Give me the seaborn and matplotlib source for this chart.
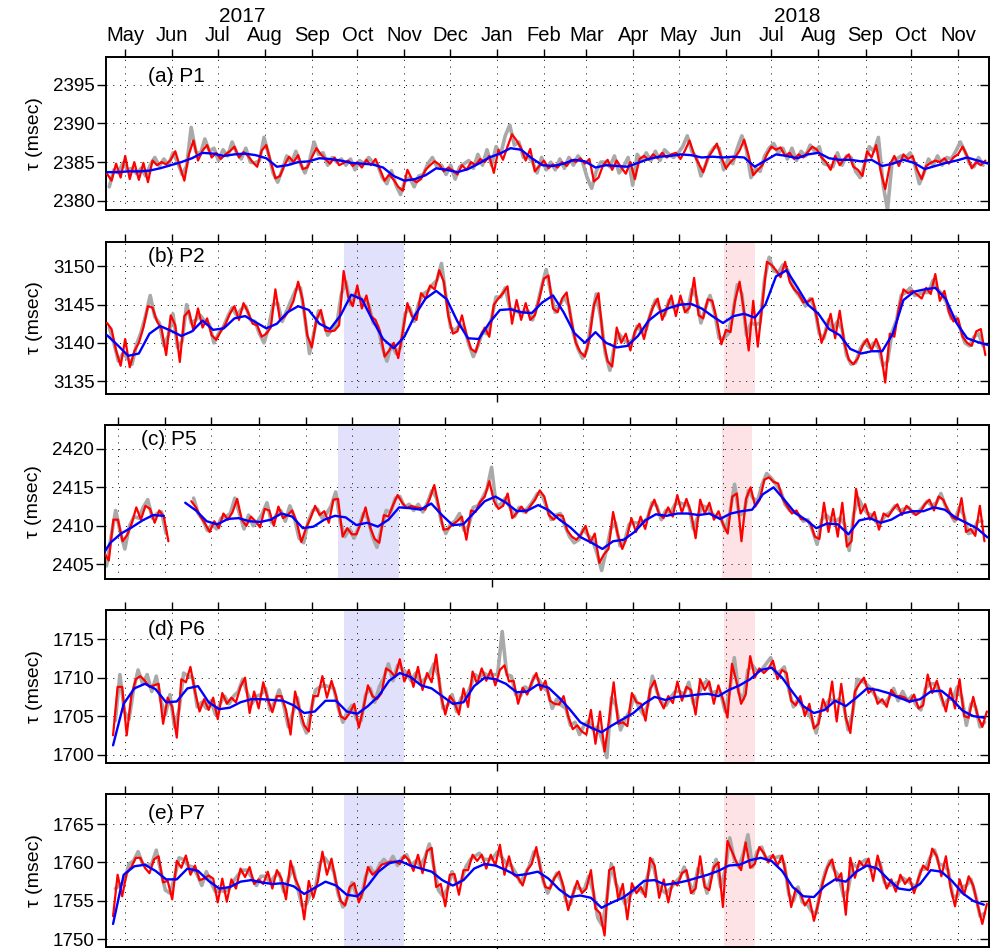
import numpy as np
import pandas as pd
import matplotlib
matplotlib.use("Agg")
import matplotlib.pyplot as plt
import matplotlib.dates as mdates
import matplotlib.transforms as mtransforms
from matplotlib.ticker import NullLocator
import seaborn as sns

# ---------------------------------------------------------------------------
# Travel-time series (tau, msec) for five paths.
#   *_RED  : daily-smoothed series, one value every 3 days from the start date
#   *_GRAY : raw series, one value every 3 days, offset by 1.5 days
#   *_BLUE : long-period trend, one value every 7 days from the start date
# nan marks missing data.
# ---------------------------------------------------------------------------
nan = float("nan")

P1_RED = [
    2383.5, 2382.6, 2384.8, 2383.0, 2385.8, 2382.8, 2385.0, 2382.7, 2384.9, 2382.4,
    2385.2, 2384.6, 2385.0, 2384.7, 2385.3, 2386.4, 2384.5, 2382.6, 2386.0, 2387.8,
    2385.2, 2386.5, 2387.2, 2385.6, 2386.2, 2385.4, 2386.0, 2386.4, 2387.0, 2385.6,
    2386.3, 2385.8, 2385.0, 2384.4, 2386.5, 2387.2, 2385.0, 2382.9, 2383.2, 2384.6,
    2385.7, 2385.0, 2385.9, 2384.1, 2384.3, 2385.6, 2386.8, 2386.0, 2385.4, 2384.8,
    2385.6, 2384.6, 2384.9, 2385.2, 2384.5, 2385.0, 2384.3, 2385.3, 2384.6, 2385.4,
    2384.0, 2382.6, 2383.4, 2382.7, 2381.8, 2381.3, 2384.0, 2382.8, 2382.4, 2382.8,
    2384.0, 2384.6, 2385.1, 2384.7, 2383.8, 2384.3, 2383.9, 2383.4, 2384.6, 2384.0,
    2385.0, 2384.6, 2385.4, 2385.0, 2385.8, 2383.6, 2386.6, 2385.3, 2387.0, 2388.6,
    2387.8, 2386.8, 2385.2, 2386.7, 2383.8, 2384.5, 2385.2, 2384.2, 2384.7, 2384.3,
    2385.0, 2384.5, 2385.3, 2385.0, 2385.5, 2384.8, 2385.4, 2382.5, 2383.0, 2384.6,
    2385.3, 2384.0, 2385.2, 2384.3, 2383.5, 2385.0, 2382.8, 2385.4, 2385.8, 2385.3,
    2386.0, 2385.5, 2386.2, 2385.6, 2386.0, 2386.2, 2385.4, 2386.5, 2387.8, 2386.0,
    2384.8, 2383.7, 2385.5, 2386.4, 2387.4, 2385.6, 2384.2, 2385.0, 2385.6, 2386.5,
    2387.9, 2385.8, 2383.3, 2384.0, 2384.6, 2386.0, 2387.0, 2386.6, 2386.9, 2385.8,
    2386.2, 2385.4, 2386.0, 2385.6, 2386.3, 2387.0, 2386.6, 2385.6, 2385.0, 2384.0,
    2385.8, 2384.6, 2385.4, 2386.0, 2384.4, 2384.0, 2383.2, 2386.4, 2385.6, 2387.2,
    2383.8, 2381.5, 2384.6, 2385.8, 2384.5, 2386.0, 2385.4, 2385.8, 2384.0, 2382.8,
    2384.5, 2384.9, 2385.2, 2385.0, 2385.5, 2384.8, 2385.6, 2386.0, 2387.0, 2385.8,
    2384.2, 2385.0, 2384.6, 2385.2,
]
P1_GRAY = [
    2381.8, 2384.0, 2383.6, 2384.9, 2384.0, 2384.2, 2383.5, 2384.2, 2383.2, 2384.6,
    2385.6, 2384.5, 2385.4, 2384.6, 2386.2, 2385.0, 2383.4, 2384.5, 2389.5, 2386.4,
    2386.0, 2388.0, 2386.4, 2386.8, 2385.2, 2386.6, 2385.8, 2387.6, 2386.2, 2385.4,
    2386.8, 2385.0, 2384.9, 2385.2, 2388.2, 2386.0, 2383.6, 2382.4, 2384.0, 2385.8,
    2384.8, 2386.4, 2384.8, 2383.6, 2385.2, 2387.6, 2386.0, 2386.2, 2384.6, 2385.6,
    2385.0, 2385.4, 2384.6, 2385.4, 2384.0, 2385.2, 2384.8, 2385.6, 2384.9, 2384.6,
    2383.0, 2382.2, 2383.9, 2382.0, 2380.8, 2382.6, 2383.0, 2381.8, 2383.2, 2383.4,
    2384.8, 2385.6, 2384.4, 2384.6, 2383.4, 2384.6, 2382.8, 2384.4, 2384.8, 2385.2,
    2384.2, 2386.0, 2384.6, 2386.6, 2384.6, 2387.0, 2386.0, 2388.4, 2389.8, 2387.2,
    2387.6, 2385.6, 2385.8, 2385.0, 2383.6, 2385.6, 2384.0, 2385.0, 2384.0, 2385.4,
    2384.2, 2385.6, 2384.6, 2385.8, 2385.0, 2383.0, 2381.6, 2383.8, 2385.0, 2385.0,
    2384.4, 2385.8, 2383.6, 2384.4, 2385.6, 2382.0, 2386.0, 2385.2, 2386.2, 2385.2,
    2386.4, 2385.2, 2386.6, 2386.0, 2385.6, 2386.2, 2387.0, 2388.4, 2386.4, 2385.6,
    2383.2, 2384.6, 2386.2, 2387.0, 2386.8, 2384.0, 2385.4, 2384.8, 2386.8, 2388.4,
    2386.6, 2383.0, 2384.2, 2383.8, 2385.8, 2386.8, 2387.4, 2386.2, 2386.8, 2385.4,
    2386.8, 2385.2, 2386.4, 2385.8, 2387.2, 2386.4, 2387.0, 2384.8, 2384.6, 2384.4,
    2386.2, 2384.6, 2385.8, 2385.6, 2383.8, 2383.0, 2384.8, 2387.0, 2386.4, 2388.2,
    2382.2, 2378.8, 2385.0, 2385.4, 2385.8, 2385.6, 2386.2, 2384.6, 2382.2, 2383.6,
    2385.4, 2384.6, 2385.8, 2384.6, 2385.6, 2385.4, 2386.4, 2387.6, 2386.4, 2384.8,
    2384.4, 2385.6, 2384.6,
]
P1_BLUE = [
    2383.7, 2383.7, 2383.8, 2383.8, 2383.9, 2384.2, 2384.6, 2385.0, 2385.5, 2386.2,
    2386.1, 2385.8, 2386.0, 2386.1, 2385.9, 2385.5, 2384.4, 2384.6, 2385.0, 2385.1,
    2385.5, 2385.4, 2385.2, 2384.9, 2384.8, 2384.7, 2384.3, 2383.2, 2382.6, 2382.8,
    2383.3, 2384.2, 2384.0, 2383.7, 2384.1, 2384.8, 2385.6, 2386.1, 2386.8, 2386.6,
    2385.5, 2384.6, 2384.5, 2384.8, 2385.3, 2385.1, 2384.3, 2384.6, 2384.5, 2384.4,
    2384.9, 2385.4, 2385.7, 2385.8, 2386.0, 2385.9, 2385.6, 2385.7, 2385.6, 2385.7,
    2385.6, 2384.4, 2385.2, 2386.0, 2385.8, 2385.5, 2386.0, 2386.2, 2385.5, 2385.3,
    2385.3, 2385.1, 2385.3, 2384.5, 2384.8, 2385.3, 2384.9, 2384.1, 2384.5, 2384.9,
    2385.2, 2385.6, 2385.2, 2384.8,
]

P2_RED = [
    3142.6, 3141.8, 3139.0, 3137.0, 3140.5, 3136.8, 3138.9, 3140.0, 3142.0, 3144.8,
    3144.6, 3142.8, 3141.8, 3138.4, 3143.6, 3142.3, 3137.5, 3143.5, 3144.2, 3141.6,
    3144.5, 3142.0, 3143.2, 3141.0, 3140.4, 3141.5, 3142.4, 3143.8, 3144.8, 3143.0,
    3145.2, 3144.0, 3142.5, 3142.3, 3140.8, 3141.2, 3142.0, 3147.0, 3143.0, 3143.4,
    3144.2, 3145.5, 3148.0, 3145.6, 3141.0, 3139.4, 3143.0, 3144.3, 3141.6, 3141.5,
    3141.6, 3142.3, 3149.4, 3146.0, 3144.8, 3147.5, 3144.5, 3146.2, 3143.5, 3143.0,
    3141.5, 3138.2, 3139.0, 3140.0, 3138.0, 3141.5, 3145.2, 3143.5, 3143.0, 3146.5,
    3145.8, 3147.5, 3147.0, 3149.5, 3148.0, 3143.5, 3141.2, 3141.5, 3143.6, 3141.0,
    3139.2, 3138.8, 3140.8, 3142.0, 3140.8, 3145.0, 3145.8, 3146.5, 3147.4, 3142.5,
    3145.6, 3143.0, 3145.2, 3143.0, 3143.6, 3145.8, 3148.4, 3148.8, 3144.5, 3144.0,
    3145.8, 3146.6, 3143.0, 3140.0, 3138.8, 3138.2, 3140.5, 3145.0, 3146.5, 3140.5,
    3137.6, 3136.9, 3142.0, 3140.0, 3141.2, 3139.0, 3141.5, 3142.5, 3140.5, 3143.0,
    3144.7, 3145.8, 3143.0, 3144.5, 3146.2, 3143.5, 3146.2, 3144.0, 3144.6, 3148.5,
    3143.6, 3143.2, 3145.7, 3145.5, 3143.0, 3139.8, 3141.7, 3141.4, 3145.5, 3148.0,
    3144.0, 3139.0, 3145.5, 3139.5, 3145.0, 3150.6, 3150.2, 3149.5, 3148.6, 3150.6,
    3148.0, 3147.0, 3146.4, 3145.3, 3145.4, 3145.8, 3143.2, 3140.0, 3141.6, 3143.8,
    3140.6, 3144.2, 3140.0, 3137.8, 3137.2, 3138.0, 3139.6, 3140.5, 3139.0, 3140.5,
    3139.0, 3134.8, 3141.2, 3140.8, 3144.5, 3147.0, 3146.5, 3146.8, 3146.3, 3145.8,
    3147.2, 3146.4, 3149.0, 3145.5, 3146.8, 3144.0, 3142.8, 3143.2, 3140.8, 3140.0,
    3139.6, 3141.5, 3141.8, 3138.4,
]
P2_GRAY = [
    3142.0, 3140.0, 3137.6, 3138.6, 3138.0, 3137.2, 3139.8, 3141.4, 3143.6, 3146.2,
    3143.4, 3142.6, 3139.6, 3141.0, 3143.8, 3139.4, 3140.2, 3145.0, 3142.6, 3143.0,
    3143.6, 3142.8, 3142.4, 3140.0, 3141.2, 3142.0, 3143.4, 3144.6, 3143.6, 3144.4,
    3144.8, 3143.0, 3142.8, 3141.2, 3140.0, 3142.0, 3145.0, 3145.2, 3142.8, 3144.2,
    3145.6, 3147.0, 3147.2, 3143.2, 3138.6, 3141.4, 3144.2, 3142.8, 3141.0, 3141.8,
    3142.4, 3146.4, 3148.0, 3145.0, 3146.4, 3146.0, 3145.4, 3145.0, 3142.6, 3142.2,
    3139.4, 3137.6, 3139.8, 3138.6, 3139.4, 3143.8, 3144.6, 3142.8, 3145.2, 3146.4,
    3146.8, 3147.6, 3148.2, 3150.4, 3146.0, 3142.0, 3141.6, 3142.4, 3142.0, 3139.8,
    3138.2, 3139.6, 3141.4, 3141.2, 3143.2, 3146.0, 3146.0, 3147.2, 3144.6, 3144.2,
    3144.0, 3144.0, 3144.2, 3143.0, 3144.8, 3147.4, 3149.6, 3146.6, 3144.0, 3145.0,
    3146.0, 3144.8, 3141.2, 3139.2, 3138.0, 3139.2, 3143.2, 3146.4, 3143.2, 3138.6,
    3136.4, 3139.6, 3141.2, 3140.4, 3140.0, 3140.4, 3142.2, 3141.4, 3141.8, 3144.0,
    3145.6, 3144.4, 3143.6, 3145.6, 3144.6, 3145.0, 3145.2, 3144.0, 3147.0, 3146.0,
    3142.6, 3144.6, 3146.2, 3144.0, 3140.6, 3140.6, 3141.2, 3143.8, 3147.6, 3146.4,
    3141.0, 3142.6, 3142.4, 3142.6, 3148.4, 3151.2, 3149.4, 3149.2, 3150.2, 3149.6,
    3147.6, 3146.6, 3145.8, 3144.8, 3145.8, 3144.6, 3141.2, 3140.6, 3143.0, 3141.8,
    3142.8, 3141.8, 3138.4, 3137.2, 3137.4, 3139.2, 3140.2, 3139.4, 3140.0, 3139.4,
    3137.0, 3137.6, 3141.4, 3143.0, 3146.2, 3146.6, 3147.2, 3146.2, 3146.4, 3146.6,
    3146.6, 3148.2, 3147.0, 3146.4, 3145.2, 3143.2, 3143.4, 3141.8, 3140.0, 3139.6,
    3140.8, 3141.2, 3139.6,
]
P2_BLUE = [
    3141.0, 3139.7, 3138.3, 3138.6, 3141.2, 3142.2, 3141.6, 3140.9, 3141.5, 3142.9,
    3141.7, 3141.9, 3143.2, 3143.5, 3142.7, 3141.9, 3142.5, 3144.0, 3144.8, 3144.3,
    3142.5, 3141.8, 3143.6, 3146.3, 3145.7, 3143.0, 3140.5, 3139.3, 3140.8, 3143.6,
    3145.8, 3146.8, 3145.7, 3142.8, 3140.6, 3140.5, 3142.6, 3144.3, 3144.4, 3144.0,
    3143.9, 3145.3, 3146.2, 3144.0, 3141.3, 3140.0, 3141.4, 3140.0, 3139.4, 3139.6,
    3140.9, 3142.9, 3144.0, 3144.6, 3145.0, 3145.1, 3144.5, 3143.5, 3142.6, 3143.5,
    3143.8, 3143.3, 3145.0, 3148.7, 3149.5, 3147.3, 3145.0, 3143.8, 3141.8, 3141.0,
    3139.2, 3138.6, 3138.9, 3138.9, 3141.2, 3145.6, 3146.7, 3147.0, 3147.2, 3145.7,
    3142.6, 3140.6, 3140.1, 3139.7,
]

P5_RED = [
    nan, 2406.5, 2405.5, 2410.8, 2410.8, 2408.0, 2408.8, 2410.3, 2412.4, 2410.8,
    2412.6, 2412.2, 2410.4, 2412.0, 2411.2, 2408.0, nan, nan, nan, nan,
    2413.2, 2412.4, 2411.2, 2410.3, 2409.2, 2410.6, 2409.7, 2411.6, 2410.8, 2411.8,
    2413.5, 2410.8, 2410.0, 2411.2, 2410.6, 2409.8, 2412.2, 2412.0, 2410.0, 2412.5,
    2411.0, 2411.4, 2412.0, 2410.5, 2407.9, 2409.7, 2411.0, 2412.6, 2411.4, 2411.9,
    2410.4, 2413.4, 2413.5, 2408.6, 2409.7, 2408.9, 2408.9, 2410.4, 2412.4, 2409.8,
    2408.3, 2407.8, 2411.4, 2411.2, 2412.7, 2414.0, 2413.0, 2412.3, 2412.6, 2412.4,
    2412.3, 2412.1, 2413.5, 2415.3, 2412.4, 2409.5, 2409.6, 2410.2, 2410.6, 2411.2,
    2408.2, 2412.0, 2411.8, 2413.1, 2413.8, 2415.8, 2413.2, 2412.2, 2412.6, 2414.2,
    2411.0, 2411.7, 2412.5, 2411.7, 2412.6, 2413.4, 2414.6, 2413.8, 2411.4, 2410.8,
    2411.4, 2411.3, 2409.4, 2408.6, 2408.2, 2408.9, 2410.0, 2407.8, 2409.0, 2405.2,
    2406.3, 2407.0, 2411.8, 2408.9, 2407.0, 2408.5, 2411.0, 2409.2, 2411.2, 2409.6,
    2412.0, 2413.4, 2411.6, 2411.0, 2412.4, 2411.2, 2414.0, 2411.7, 2413.5, 2411.7,
    2408.4, 2413.4, 2411.6, 2413.0, 2410.8, 2411.9, 2410.2, 2409.0, 2413.8, 2414.2,
    2408.0, 2413.5, 2415.0, 2412.5, 2413.4, 2416.0, 2416.3, 2415.7, 2415.5, 2413.5,
    2412.5, 2411.6, 2412.0, 2410.9, 2410.8, 2410.4, 2408.6, 2408.3, 2413.0, 2409.2,
    2412.2, 2408.6, 2413.0, 2407.3, 2408.0, 2414.8, 2411.6, 2412.8, 2410.8, 2411.8,
    2409.5, 2411.6, 2411.2, 2412.1, 2412.8, 2411.4, 2412.6, 2412.0, 2411.4, 2411.8,
    2412.8, 2413.4, 2412.0, 2413.8, 2413.4, 2412.1, 2411.1, 2410.8, 2413.6, 2409.2,
    2409.6, 2408.7, 2412.6, 2408.0,
]
P5_GRAY = [
    nan, 2404.8, 2408.6, 2412.0, 2409.2, 2407.0, 2410.0, 2411.2, 2411.0, 2412.4,
    2413.4, 2411.0, 2411.6, 2411.8, 2409.0, nan, nan, nan, nan, nan,
    2413.6, 2411.6, 2410.8, 2409.4, 2410.2, 2409.6, 2411.0, 2411.2, 2411.6, 2413.6,
    2411.6, 2409.6, 2411.4, 2410.0, 2410.6, 2411.6, 2413.0, 2410.4, 2411.4, 2412.0,
    2410.6, 2412.6, 2411.0, 2408.4, 2407.8, 2410.6, 2412.0, 2412.2, 2411.0, 2411.6,
    2412.6, 2414.4, 2410.4, 2408.6, 2409.6, 2408.4, 2409.8, 2411.6, 2411.0, 2408.6,
    2407.2, 2409.8, 2412.0, 2411.8, 2413.6, 2413.8, 2412.4, 2412.8, 2412.0, 2412.8,
    2411.8, 2413.0, 2414.6, 2413.6, 2410.6, 2409.0, 2410.2, 2410.6, 2411.6, 2409.4,
    2410.0, 2412.4, 2412.6, 2413.6, 2414.8, 2417.6, 2412.6, 2412.8, 2413.6, 2412.4,
    2411.2, 2412.4, 2411.8, 2412.4, 2413.2, 2414.2, 2414.0, 2412.4, 2410.8, 2411.4,
    2411.6, 2410.0, 2408.6, 2407.8, 2408.2, 2409.6, 2408.8, 2408.2, 2406.4, 2404.2,
    2406.8, 2409.6, 2410.4, 2407.4, 2408.0, 2410.2, 2410.4, 2410.4, 2410.4, 2411.0,
    2413.0, 2412.6, 2410.8, 2412.0, 2411.6, 2412.8, 2413.0, 2412.8, 2412.6, 2409.6,
    2411.2, 2412.6, 2412.4, 2411.6, 2411.2, 2411.0, 2409.4, 2411.8, 2415.4, 2411.4,
    2411.6, 2414.6, 2413.6, 2413.2, 2415.4, 2416.8, 2416.2, 2415.4, 2414.6, 2412.8,
    2412.0, 2411.8, 2411.4, 2410.6, 2410.8, 2409.4, 2407.6, 2410.8, 2411.4, 2410.8,
    2410.6, 2411.0, 2410.2, 2406.8, 2411.6, 2413.6, 2412.4, 2411.6, 2411.4, 2410.4,
    2410.6, 2411.4, 2411.8, 2412.6, 2412.0, 2412.2, 2412.4, 2411.6, 2411.8, 2412.4,
    2413.2, 2412.6, 2413.0, 2414.2, 2412.6, 2411.6, 2410.6, 2412.4, 2411.4, 2409.0,
    2409.2, 2410.6, 2410.6,
]
P5_BLUE = [
    2405.6, 2407.8, 2409.0, 2409.8, 2410.7, 2411.4, 2411.3, nan, 2413.0, 2412.0,
    2410.6, 2410.2, 2410.9, 2411.0, 2410.6, 2410.5, 2410.8, 2411.6, 2411.2, 2409.7,
    2409.9, 2410.8, 2411.3, 2411.1, 2410.1, 2410.4, 2409.9, 2410.8, 2412.4, 2412.3,
    2412.1, 2412.9, 2411.4, 2410.1, 2410.2, 2411.7, 2413.2, 2413.8, 2413.0, 2411.9,
    2412.0, 2412.7, 2412.0, 2410.8, 2409.8, 2408.5, 2407.8, 2407.0, 2408.0, 2408.2,
    2409.2, 2410.7, 2411.5, 2411.3, 2411.6, 2411.6, 2411.4, 2411.6, 2410.9, 2411.6,
    2411.9, 2412.1, 2414.1, 2415.0, 2413.4, 2411.7, 2410.8, 2409.7, 2410.3, 2410.2,
    2408.9, 2410.7, 2411.0, 2410.4, 2410.8, 2411.6, 2411.9, 2411.9, 2412.4, 2412.1,
    2411.1, 2410.4, 2409.7, 2408.5,
]

P6_RED = [
    1702.5, 1708.8, 1708.8, 1702.5, 1707.6, 1709.8, 1710.2, 1709.6, 1708.8, 1709.0,
    1709.2, 1704.0, 1707.4, 1706.2, 1702.2, 1709.8, 1709.4, 1711.4, 1708.2, 1705.6,
    1707.2, 1705.8, 1707.4, 1704.6, 1708.0, 1706.6, 1707.4, 1706.8, 1708.8, 1710.0,
    1705.4, 1708.2, 1706.0, 1709.4, 1707.2, 1705.5, 1707.6, 1707.6, 1705.8, 1702.6,
    1708.2, 1705.8, 1703.8, 1703.0, 1707.6, 1707.6, 1710.2, 1707.4, 1709.6, 1707.6,
    1705.0, 1704.6, 1705.4, 1706.6, 1703.5, 1706.0, 1709.0, 1707.6, 1707.2, 1708.0,
    1711.2, 1710.8, 1710.1, 1712.4, 1709.5, 1711.0, 1708.8, 1711.4, 1708.4, 1710.6,
    1709.4, 1713.0, 1707.8, 1705.2, 1707.6, 1706.8, 1705.2, 1708.6, 1706.2, 1710.8,
    1709.2, 1711.2, 1709.6, 1711.0, 1709.0, 1711.0, 1711.6, 1709.5, 1709.6, 1706.6,
    1708.7, 1707.8, 1709.4, 1710.6, 1708.4, 1709.6, 1707.0, 1706.6, 1706.5, 1707.6,
    1705.0, 1703.3, 1703.8, 1703.0, 1702.6, 1705.8, 1701.4, 1705.6, 1700.4, 1704.6,
    1709.4, 1704.0, 1704.2, 1703.7, 1708.0, 1706.8, 1706.6, 1704.4, 1708.5, 1709.6,
    1707.2, 1706.0, 1707.6, 1706.7, 1709.5, 1707.0, 1708.8, 1708.4, 1705.2, 1709.8,
    1708.4, 1709.5, 1706.6, 1709.0, 1707.2, 1704.8, 1711.8, 1709.4, 1706.6, 1707.8,
    1712.8, 1710.0, 1711.2, 1710.6, 1711.2, 1712.2, 1709.8, 1711.0, 1710.6, 1707.0,
    1706.4, 1707.6, 1705.0, 1706.6, 1703.4, 1704.0, 1707.2, 1705.6, 1709.5, 1704.3,
    1709.2, 1704.8, 1702.8, 1708.2, 1709.2, 1710.0, 1708.0, 1708.6, 1706.6, 1707.2,
    1706.2, 1708.4, 1707.6, 1707.6, 1707.4, 1706.8, 1707.8, 1706.0, 1706.4, 1710.4,
    1708.0, 1709.6, 1707.6, 1705.6, 1708.6, 1706.0, 1709.8, 1705.0, 1704.8, 1707.5,
    1705.0, 1703.6, 1705.6,
]
P6_GRAY = [
    1704.4, 1710.4, 1705.6, 1704.6, 1708.4, 1711.0, 1709.2, 1710.4, 1708.2, 1710.2,
    1707.0, 1705.2, 1707.8, 1703.6, 1705.8, 1710.6, 1710.2, 1710.0, 1706.2, 1706.8,
    1706.0, 1707.0, 1705.2, 1706.6, 1707.6, 1706.6, 1707.6, 1708.2, 1709.8, 1708.0,
    1706.6, 1707.6, 1707.8, 1708.6, 1705.8, 1706.8, 1708.4, 1706.4, 1703.6, 1705.4,
    1707.4, 1704.2, 1702.8, 1705.8, 1708.4, 1708.8, 1709.0, 1708.8, 1708.6, 1706.0,
    1704.2, 1705.6, 1706.4, 1704.6, 1704.4, 1707.8, 1708.6, 1706.8, 1708.8, 1710.0,
    1711.8, 1709.6, 1711.6, 1711.2, 1710.6, 1709.6, 1710.6, 1709.4, 1709.8, 1710.4,
    1711.8, 1710.2, 1706.0, 1706.4, 1707.8, 1705.6, 1707.4, 1707.4, 1708.8, 1710.4,
    1710.0, 1710.6, 1710.2, 1710.4, 1710.4, 1716.0, 1710.4, 1710.2, 1707.8, 1707.6,
    1708.8, 1708.4, 1710.2, 1709.8, 1708.8, 1708.2, 1706.0, 1707.2, 1706.4, 1706.0,
    1703.8, 1704.2, 1702.6, 1703.8, 1704.4, 1703.2, 1703.6, 1701.8, 1699.6, 1707.4,
    1706.4, 1703.2, 1704.6, 1705.6, 1707.6, 1706.2, 1705.2, 1706.4, 1710.2, 1708.2,
    1706.8, 1706.4, 1707.4, 1708.2, 1708.2, 1707.8, 1709.4, 1706.6, 1707.6, 1709.0,
    1709.6, 1708.0, 1708.2, 1708.0, 1705.6, 1708.4, 1712.6, 1708.0, 1707.2, 1711.0,
    1711.6, 1710.8, 1711.0, 1711.8, 1712.6, 1710.6, 1710.8, 1711.4, 1708.4, 1706.2,
    1707.2, 1706.2, 1705.6, 1704.6, 1702.8, 1705.8, 1706.4, 1707.2, 1706.8, 1707.2,
    1706.6, 1703.2, 1705.4, 1709.8, 1709.6, 1709.2, 1708.6, 1707.6, 1707.0, 1706.6,
    1707.4, 1708.6, 1707.0, 1708.2, 1707.0, 1707.6, 1706.4, 1705.8, 1708.6, 1709.2,
    1709.2, 1708.2, 1706.4, 1707.2, 1707.2, 1708.8, 1707.4, 1703.8, 1706.6, 1706.2,
    1703.6, 1704.2,
]
P6_BLUE = [
    1701.2, 1706.6, 1708.6, 1709.2, 1708.5, 1706.8, 1706.9, 1708.6, 1708.9, 1706.8,
    1705.9, 1706.1, 1706.8, 1707.2, 1707.2, 1707.1, 1707.0, 1706.4, 1705.4, 1705.6,
    1707.0, 1707.0, 1705.6, 1705.3, 1706.3, 1707.6, 1709.6, 1710.6, 1710.1, 1709.0,
    1708.6, 1707.6, 1706.6, 1706.8, 1708.9, 1710.0, 1709.8, 1709.2, 1708.1, 1708.2,
    1709.1, 1708.7, 1707.4, 1705.9, 1704.2, 1703.5, 1702.9, 1703.8, 1704.6, 1705.4,
    1706.6, 1707.5, 1707.1, 1707.5, 1707.6, 1707.8, 1707.9, 1707.6, 1708.4, 1709.0,
    1709.8, 1711.0, 1711.3, 1710.0, 1708.1, 1706.3, 1705.4, 1705.8, 1707.0, 1706.3,
    1707.4, 1708.6, 1708.4, 1708.0, 1707.4, 1706.9, 1707.2, 1708.2, 1708.3, 1707.2,
    1705.7, 1705.0, 1704.8,
]

P7_RED = [
    1753.0, 1758.4, 1755.6, 1758.6, 1759.4, 1760.6, 1760.6, 1759.3, 1758.6, 1760.4,
    1760.8, 1757.4, 1757.6, 1755.2, 1760.2, 1759.3, 1760.9, 1758.4, 1759.6, 1757.7,
    1757.9, 1758.3, 1757.9, 1754.8, 1757.9, 1754.9, 1757.8, 1756.6, 1759.2, 1758.1,
    1759.4, 1757.2, 1757.8, 1757.2, 1758.8, 1756.6, 1759.0, 1757.9, 1755.2, 1760.2,
    1757.9, 1756.6, 1752.6, 1757.6, 1755.4, 1757.6, 1761.4, 1758.4, 1760.5, 1757.4,
    1755.0, 1754.4, 1756.8, 1757.3, 1754.8, 1756.4, 1759.4, 1758.4, 1758.9, 1759.7,
    1759.9, 1760.1, 1760.1, 1759.8, 1760.9, 1760.3, 1758.9, 1761.0, 1758.6, 1761.5,
    1761.9, 1756.8, 1757.2, 1754.3, 1758.4, 1758.5, 1755.8, 1759.0, 1759.0, 1761.0,
    1760.2, 1761.0, 1759.2, 1761.0, 1759.6, 1762.3, 1758.4, 1760.8, 1758.4, 1758.0,
    1757.0, 1759.0, 1759.8, 1762.0, 1758.8, 1756.8, 1756.6, 1758.0, 1758.8, 1756.8,
    1753.8, 1755.8, 1757.6, 1756.0, 1756.6, 1759.0, 1754.0, 1753.4, 1750.5, 1759.0,
    1759.4, 1755.2, 1757.2, 1752.6, 1757.3, 1756.0, 1756.8, 1755.5, 1760.6, 1759.6,
    1755.4, 1757.8, 1754.8, 1757.6, 1757.0, 1758.6, 1759.0, 1756.0, 1756.6, 1760.8,
    1756.8, 1756.4, 1759.4, 1760.0, 1754.2, 1762.8, 1761.4, 1760.0, 1759.0, 1762.6,
    1759.3, 1759.8, 1762.0, 1761.2, 1760.0, 1761.0, 1759.6, 1760.9, 1758.0, 1754.2,
    1756.6, 1756.0, 1754.4, 1755.3, 1752.4, 1754.8, 1757.5, 1759.4, 1760.4, 1757.6,
    1758.6, 1753.2, 1760.6, 1758.0, 1760.2, 1759.4, 1760.5, 1757.6, 1760.9, 1758.6,
    1756.6, 1757.8, 1756.2, 1758.4, 1757.2, 1758.0, 1756.0, 1758.0, 1759.6, 1759.0,
    1761.8, 1760.8, 1758.2, 1760.8, 1756.8, 1754.3, 1757.8, 1755.8, 1758.2, 1757.0,
    1754.4, 1752.0, 1754.6,
]
P7_GRAY = [
    1756.6, 1757.0, 1757.6, 1759.8, 1760.2, 1761.4, 1759.8, 1759.6, 1759.8, 1761.6,
    1758.8, 1756.4, 1756.0, 1758.0, 1760.6, 1760.4, 1759.6, 1759.4, 1758.4, 1757.0,
    1758.8, 1757.4, 1756.2, 1756.4, 1756.2, 1756.6, 1757.6, 1758.4, 1759.0, 1759.0,
    1758.0, 1757.0, 1758.2, 1758.2, 1757.4, 1758.2, 1758.6, 1756.2, 1757.8, 1759.4,
    1756.8, 1754.4, 1754.6, 1756.2, 1756.8, 1760.0, 1760.6, 1759.8, 1758.8, 1755.8,
    1754.2, 1755.4, 1757.4, 1755.8, 1755.4, 1758.2, 1759.4, 1758.4, 1759.6, 1760.4,
    1759.8, 1760.8, 1759.6, 1760.6, 1761.0, 1759.6, 1760.2, 1759.6, 1760.6, 1762.4,
    1759.4, 1756.4, 1755.6, 1756.6, 1758.8, 1757.2, 1757.6, 1759.4, 1760.4, 1760.8,
    1761.2, 1760.4, 1760.4, 1760.6, 1761.4, 1760.6, 1759.8, 1759.6, 1758.6, 1757.4,
    1758.4, 1759.6, 1761.4, 1760.6, 1757.6, 1756.0, 1757.4, 1758.6, 1757.6, 1755.0,
    1754.6, 1756.8, 1756.6, 1756.4, 1758.2, 1756.2, 1752.8, 1751.8, 1755.4, 1759.8,
    1757.2, 1756.0, 1754.6, 1755.6, 1756.6, 1756.6, 1756.0, 1758.4, 1760.4, 1757.4,
    1756.4, 1756.0, 1756.6, 1757.4, 1758.0, 1759.4, 1757.6, 1756.0, 1759.2, 1758.4,
    1756.0, 1758.4, 1760.4, 1756.8, 1759.0, 1763.2, 1760.4, 1759.4, 1761.2, 1763.6,
    1759.4, 1761.4, 1762.0, 1760.4, 1760.8, 1760.6, 1760.8, 1759.8, 1755.8, 1755.0,
    1756.8, 1754.8, 1754.6, 1753.6, 1753.4, 1756.6, 1758.8, 1760.2, 1759.0, 1758.2,
    1755.6, 1756.4, 1759.8, 1759.4, 1760.0, 1760.4, 1759.0, 1759.4, 1760.0, 1757.4,
    1757.0, 1757.2, 1757.4, 1758.0, 1757.6, 1757.2, 1756.8, 1759.0, 1759.2, 1760.6,
    1761.6, 1759.8, 1759.6, 1759.0, 1755.6, 1755.6, 1756.8, 1757.0, 1757.8, 1755.8,
    1753.0, 1753.4,
]
P7_BLUE = [
    1752.0, 1758.4, 1759.5, 1759.7, 1758.9, 1757.8, 1757.8, 1759.2, 1758.9, 1757.6,
    1756.6, 1756.8, 1757.5, 1757.7, 1757.4, 1757.2, 1757.3, 1756.9, 1755.9, 1756.7,
    1757.5, 1757.0, 1755.8, 1755.6, 1757.0, 1758.8, 1759.9, 1760.2, 1759.6, 1759.2,
    1758.8, 1757.7, 1757.0, 1757.7, 1759.2, 1759.8, 1759.6, 1759.0, 1758.3, 1758.5,
    1758.8, 1757.9, 1756.5, 1755.5, 1755.7, 1755.4, 1754.1, 1754.8, 1755.4, 1756.4,
    1757.6, 1757.7, 1757.1, 1757.3, 1757.6, 1758.0, 1758.4, 1758.9, 1759.6, 1759.7,
    1760.3, 1760.6, 1760.2, 1758.9, 1756.8, 1755.6, 1755.5, 1756.9, 1757.8, 1757.5,
    1758.8, 1759.6, 1759.2, 1757.8, 1756.6, 1756.4, 1757.2, 1759.0, 1758.8, 1757.6,
    1756.0, 1755.0, 1754.5,
]

PANEL_LABELS = ["(a) P1", "(b) P2", "(c) P5", "(d) P6", "(e) P7"]
SERIES_START = ["2017-04-19", "2017-04-19", "2017-04-19", "2017-04-23", "2017-04-23"]
RED_SERIES = [P1_RED, P2_RED, P5_RED, P6_RED, P7_RED]
GRAY_SERIES = [P1_GRAY, P2_GRAY, P5_GRAY, P6_GRAY, P7_GRAY]
BLUE_SERIES = [P1_BLUE, P2_BLUE, P5_BLUE, P6_BLUE, P7_BLUE]
Y_TICKS = [
    [2380, 2385, 2390, 2395],
    [3135, 3140, 3145, 3150],
    [2405, 2410, 2415, 2420],
    [1700, 1705, 1710, 1715],
    [1750, 1755, 1760, 1765],
]
YEAR_LABELS = [("2017-07-17", "2017"), ("2018-07-18", "2018")]
SPAN_BLUE = ("2017-09-22", "2017-11-01")
SPAN_RED = ("2018-05-31", "2018-06-20")
YEAR_START = "2018-01-01"

# layout (figure fractions / axis limits)
AX_RECTS = [
    [0.1063, 0.7787, 0.8857, 0.1612],
    [0.1063, 0.5848, 0.8857, 0.1602],
    [0.1053, 0.3899, 0.8867, 0.1623],
    [0.1063, 0.1960, 0.8857, 0.1612],
    [0.1063, 0.0021, 0.8857, 0.1612],
]
Y_LIMITS = [(2378.8, 2398.6), (3133.3, 3153.2), (2403.1, 2423.1), (1698.9, 1718.8), (1749.0, 1768.9)]
X_LIMITS = [
    ("2017-04-18 08:00", "2018-11-21 10:00"),
    ("2017-04-18 08:00", "2018-11-21 10:00"),
    ("2017-04-22 12:00", "2018-11-22 00:00"),
    ("2017-04-18 08:00", "2018-11-21 10:00"),
    ("2017-04-18 08:00", "2018-11-21 10:00"),
]
LABEL_POS = [(0.0476, 0.870), (0.0476, 0.904), (0.041, 0.907), (0.0476, 0.874), (0.0476, 0.874)]
BOTTOM_TICK_DIR = ["in", "out", "out", "out", "out"]

sns.set_theme(style="white")
plt.rcParams.update({
    "font.family": ["Liberation Sans", "DejaVu Sans"],
    "axes.edgecolor": "black",
    "axes.labelcolor": "black",
    "text.color": "black",
    "xtick.color": "black",
    "ytick.color": "black",
    "axes.unicode_minus": False,
})


def series_frame(start, values, step_days, offset_hours=0.0):
    vals = np.asarray(values, dtype=float)
    t = (pd.Timestamp(start) + pd.Timedelta(hours=offset_hours)
         + pd.to_timedelta(step_days * np.arange(len(vals)), unit="D"))
    seg = np.cumsum(np.isnan(vals))
    return pd.DataFrame({"time": t, "tau": vals, "seg": seg}).dropna()


def draw(ax, df, color, lw, z):
    sns.lineplot(data=df, x="time", y="tau", units="seg", estimator=None, sort=False,
                 color=color, linewidth=lw, ax=ax, legend=False, zorder=z)


fig = plt.figure(figsize=(9.97, 9.49), dpi=100)

for idx in range(5):
    ax = fig.add_axes(AX_RECTS[idx])
    start = SERIES_START[idx]

    if idx > 0:
        ax.axvspan(pd.Timestamp(SPAN_BLUE[0]), pd.Timestamp(SPAN_BLUE[1]),
                   color="#e1e1fb", lw=0, zorder=0)
        ax.axvspan(pd.Timestamp(SPAN_RED[0]), pd.Timestamp(SPAN_RED[1]),
                   color="#fde3e5", lw=0, zorder=0)

    draw(ax, series_frame(start, GRAY_SERIES[idx], 3, 36.0), "#a9a9a9", 2.6, 2)
    draw(ax, series_frame(start, RED_SERIES[idx], 3), "#ff0000", 1.6, 3)
    draw(ax, series_frame(start, BLUE_SERIES[idx], 7), "#0000ff", 1.7, 4)

    ax.set_xlim(pd.Timestamp(X_LIMITS[idx][0]), pd.Timestamp(X_LIMITS[idx][1]))
    ax.set_ylim(*Y_LIMITS[idx])
    ax.set_yticks(Y_TICKS[idx])
    ax.set_xlabel("")
    ax.set_ylabel("\u03c4 (msec)", fontsize=14, labelpad=7)

    ax.xaxis.set_major_locator(mdates.MonthLocator())
    ax.xaxis.set_major_formatter(mdates.DateFormatter("%b"))
    ax.xaxis.set_minor_locator(NullLocator())
    ax.yaxis.set_minor_locator(NullLocator())
    ax.tick_params(axis="x", which="major", top=True, bottom=False,
                   labeltop=(idx == 0), labelbottom=False, direction="out",
                   length=6, width=1.0, pad=3, labelsize=14.5)
    ax.tick_params(axis="y", which="major", left=True, right=False, direction="out",
                   length=6.5, width=1.0, pad=1.5, labelsize=13.5)

    ax.set_axisbelow(True)
    ax.grid(True, which="major", axis="both", color="black",
            linestyle=(0, (1, 6)), linewidth=0.7)

    for sp in ax.spines.values():
        sp.set_visible(True)
        sp.set_linewidth(1.4)
        sp.set_color("black")

    ry = ax.secondary_yaxis("right")
    ry.set_yticks(Y_TICKS[idx])
    ry.tick_params(direction="in", length=6.5, width=1.0, labelright=False)
    ry.spines["right"].set_linewidth(1.4)

    bx = ax.secondary_xaxis("bottom")
    bx.set_xticks([mdates.date2num(pd.Timestamp(YEAR_START))])
    bx.tick_params(direction=BOTTOM_TICK_DIR[idx], length=6, width=1.0, labelbottom=False)
    bx.spines["bottom"].set_linewidth(1.4)

    lx, ly = LABEL_POS[idx]
    ax.text(lx, ly, PANEL_LABELS[idx], transform=ax.transAxes,
            fontsize=15, ha="left", va="center")

    if idx == 0:
        trans = mtransforms.blended_transform_factory(ax.transData, ax.transAxes)
        for day, text in YEAR_LABELS:
            ax.text(mdates.date2num(pd.Timestamp(day)), 1.262, text, transform=trans,
                    ha="center", va="center", fontsize=15, clip_on=False)

fig.savefig("out.png", dpi=100)
